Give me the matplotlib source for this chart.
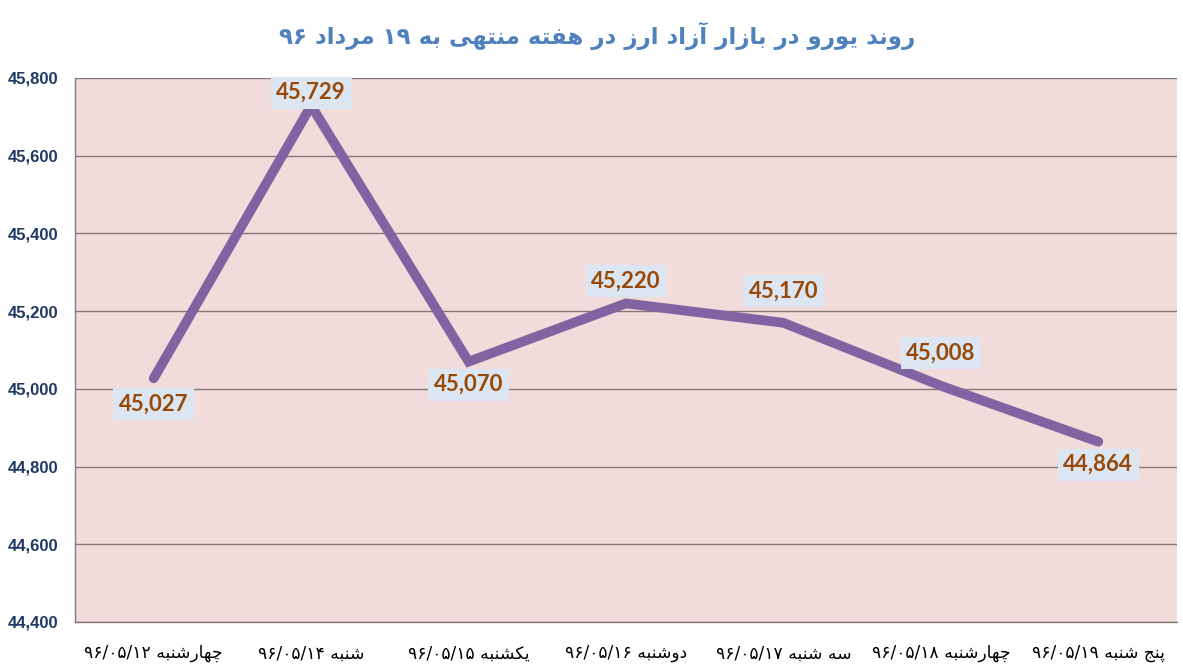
import matplotlib
matplotlib.use("Agg")
import matplotlib.pyplot as plt
from matplotlib.ticker import FuncFormatter, MultipleLocator

# ---------------- data ----------------
title = "روند یورو در بازار آزاد ارز در هفته منتهی به ۱۹ مرداد ۹۶"
categories = [
    "چهارشنبه ۹۶/۰۵/۱۲",
    "شنبه ۹۶/۰۵/۱۴",
    "یکشنبه ۹۶/۰۵/۱۵",
    "دوشنبه ۹۶/۰۵/۱۶",
    "سه شنبه ۹۶/۰۵/۱۷",
    "چهارشنبه ۹۶/۰۵/۱۸",
    "پنج شنبه ۹۶/۰۵/۱۹",
]
values = [45027, 45729, 45070, 45220, 45170, 45008, 44864]
label_offsets_px = [-26, 13, -23, 22, 32, 33, -23]  # vertical label offsets (px)

# ---------------- simple Arabic/Persian shaping ----------------
FORMS = {  # isolated, final, initial, medial (None => right-joining only)
    'ا': (0xFE8D, 0xFE8E, None, None), 'آ': (0xFE81, 0xFE82, None, None),
    'ب': (0xFE8F, 0xFE90, 0xFE91, 0xFE92), 'ت': (0xFE95, 0xFE96, 0xFE97, 0xFE98),
    'ث': (0xFE99, 0xFE9A, 0xFE9B, 0xFE9C), 'ج': (0xFE9D, 0xFE9E, 0xFE9F, 0xFEA0),
    'ح': (0xFEA1, 0xFEA2, 0xFEA3, 0xFEA4), 'خ': (0xFEA5, 0xFEA6, 0xFEA7, 0xFEA8),
    'د': (0xFEA9, 0xFEAA, None, None), 'ذ': (0xFEAB, 0xFEAC, None, None),
    'ر': (0xFEAD, 0xFEAE, None, None), 'ز': (0xFEAF, 0xFEB0, None, None),
    'س': (0xFEB1, 0xFEB2, 0xFEB3, 0xFEB4), 'ش': (0xFEB5, 0xFEB6, 0xFEB7, 0xFEB8),
    'ص': (0xFEB9, 0xFEBA, 0xFEBB, 0xFEBC), 'ض': (0xFEBD, 0xFEBE, 0xFEBF, 0xFEC0),
    'ط': (0xFEC1, 0xFEC2, 0xFEC3, 0xFEC4), 'ظ': (0xFEC5, 0xFEC6, 0xFEC7, 0xFEC8),
    'ع': (0xFEC9, 0xFECA, 0xFECB, 0xFECC), 'غ': (0xFECD, 0xFECE, 0xFECF, 0xFED0),
    'ف': (0xFED1, 0xFED2, 0xFED3, 0xFED4), 'ق': (0xFED5, 0xFED6, 0xFED7, 0xFED8),
    'ك': (0xFED9, 0xFEDA, 0xFEDB, 0xFEDC), 'ل': (0xFEDD, 0xFEDE, 0xFEDF, 0xFEE0),
    'م': (0xFEE1, 0xFEE2, 0xFEE3, 0xFEE4), 'ن': (0xFEE5, 0xFEE6, 0xFEE7, 0xFEE8),
    'ه': (0xFEE9, 0xFEEA, 0xFEEB, 0xFEEC), 'و': (0xFEED, 0xFEEE, None, None),
    'ي': (0xFEF1, 0xFEF2, 0xFEF3, 0xFEF4), 'ی': (0xFBFC, 0xFBFD, 0xFBFE, 0xFBFF),
    'پ': (0xFB56, 0xFB57, 0xFB58, 0xFB59), 'چ': (0xFB7A, 0xFB7B, 0xFB7C, 0xFB7D),
    'ژ': (0xFB8A, 0xFB8B, None, None), 'ک': (0xFB8E, 0xFB8F, 0xFB90, 0xFB91),
    'گ': (0xFB92, 0xFB93, 0xFB94, 0xFB95),
}


def dual(c):
    return c in FORMS and FORMS[c][2] is not None


def shape_word(w):
    out = []
    for i, c in enumerate(w):
        if c not in FORMS:
            out.append(c)
            continue
        prev = w[i - 1] if i > 0 else None
        nxt = w[i + 1] if i + 1 < len(w) else None
        jp = prev is not None and dual(prev)
        jn = dual(c) and nxt is not None and nxt in FORMS
        f = FORMS[c]
        if jp and jn:
            code = f[3]
        elif jp:
            code = f[1]
        elif jn:
            code = f[2]
        else:
            code = f[0]
        out.append(chr(code))
    return "".join(out)


def is_arabic_word(w):
    return any(ch in FORMS for ch in w)


def rtl(text):
    toks = text.split(" ")
    vis = []
    for t in toks:
        if is_arabic_word(t):
            vis.append(shape_word(t)[::-1])
        else:
            vis.append(t)
    return " ".join(vis[::-1])


# ---------------- plot ----------------
W, H, DPI = 1183, 671, 100
fig = plt.figure(figsize=(W / DPI, H / DPI), dpi=DPI)
fig.patch.set_facecolor("white")
ax = fig.add_axes([75 / W, 1 - 622 / H, (1177 - 75) / W, (622 - 78) / H])
ax.set_facecolor("#f2dcdb")

x = list(range(len(values)))
ax.plot(x, values, color="#8064a2", linewidth=7, solid_capstyle="round",
        solid_joinstyle="miter", zorder=3)

ax.set_xlim(-0.5, len(values) - 0.5)
ax.set_ylim(44400, 45800)
ax.yaxis.set_major_locator(MultipleLocator(200))
ax.yaxis.set_major_formatter(FuncFormatter(lambda v, p: f"{int(v):,}"))
ax.grid(axis="y", color="#857878", linewidth=1.0, zorder=1)
ax.set_axisbelow(True)

for s in ["top", "right"]:
    ax.spines[s].set_visible(False)
for s in ["left", "bottom"]:
    ax.spines[s].set_color("#857878")
    ax.spines[s].set_linewidth(1.0)

ax.tick_params(axis="y", length=0, pad=12, labelsize=12, labelcolor="#1f3864")
for lab in ax.get_yticklabels():
    lab.set_fontweight("bold")
    lab.set_fontfamily("Liberation Sans")

ax.set_xticks(x)
ax.set_xticklabels([rtl(c) for c in categories], fontsize=12.3,
                   fontfamily="DejaVu Sans", color="black")
ax.tick_params(axis="x", length=0, pad=16)

for xi, v, off in zip(x, values, label_offsets_px):
    ax.annotate(f"{v:,}", (xi, v), xytext=(0, off * 0.72), textcoords="offset points",
                ha="center", va="center", fontsize=16, fontweight="bold",
                fontfamily="Lato", color="#984807", zorder=5,
                bbox=dict(boxstyle="square,pad=0.25", facecolor="#dce6f2",
                          edgecolor="none"))

fig.text(597 / W, 1 - 36 / H, rtl(title), ha="center", va="center",
         fontsize=16.5, fontweight="bold", fontfamily="DejaVu Sans", color="#4f81bd")

fig.savefig("out.png", dpi=DPI)
